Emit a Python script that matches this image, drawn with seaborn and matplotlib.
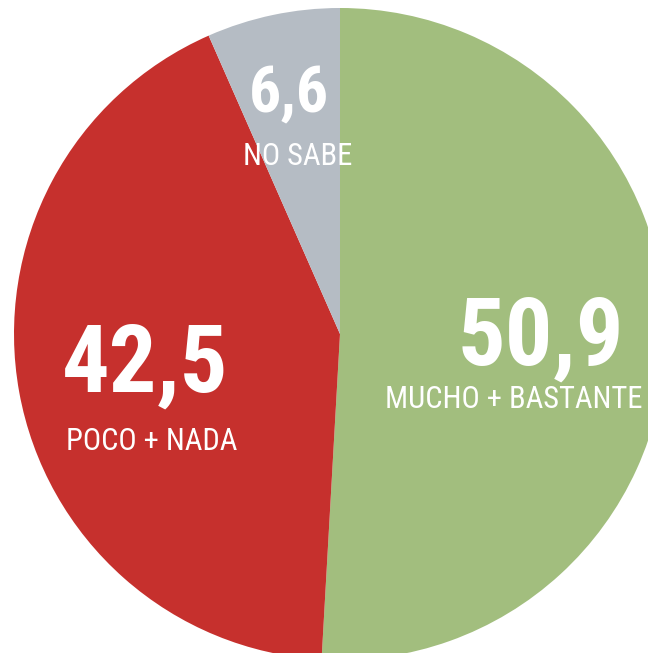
import matplotlib
matplotlib.use("Agg")
import matplotlib.pyplot as plt
from matplotlib import font_manager as fm
import seaborn as sns

sns.set_theme(style="white")
# condensed face like the original; fall back to DejaVu if missing
installed = set(f.name for f in fm.fontManager.ttflist)
main_font = "Roboto Condensed" if "Roboto Condensed" in installed else "DejaVu Sans"
plt.rcParams['font.family'] = [main_font, 'DejaVu Sans']

categories = ["MUCHO + BASTANTE", "POCO + NADA", "NO SABE"]
values = [50.9, 42.5, 6.6]
value_labels = ["50,9", "42,5", "6,6"]
colors = ["#a2be7e", "#c6302d", "#b5bcc4"]

fig = plt.figure(figsize=(6.48, 6.53), dpi=100)
ax = fig.add_axes([0, 0, 1, 1])

ax.pie(values, colors=colors, startangle=90, counterclock=False,
       radius=1, wedgeprops=dict(linewidth=0))

# circle centre at (340, 334) px, radius 326 px -> chart is cropped right/bottom
r = 326.0
ax.set_xlim(-340 / r, (648 - 340) / r)
ax.set_ylim(-(653 - 334) / r, 334 / r)
ax.set_aspect("auto")
ax.axis("off")

def px(x, y):
    return (x - 340) / r, (334 - y) / r

# label centre x / baseline y (pixels)
num_pos = [(541, 365), (145, 392), (289, 112)]
num_size = [68, 68, 46]
cat_pos = [(514, 408), (152, 450), (298, 165)]

for i in range(len(values)):
    x, y = px(*num_pos[i])
    ax.text(x, y, value_labels[i], color="white", fontsize=num_size[i],
            fontweight="bold", ha="center", va="baseline")
    x, y = px(*cat_pos[i])
    ax.text(x, y, categories[i], color="white", fontsize=22,
            ha="center", va="baseline")

fig.savefig("out.png", dpi=100)
